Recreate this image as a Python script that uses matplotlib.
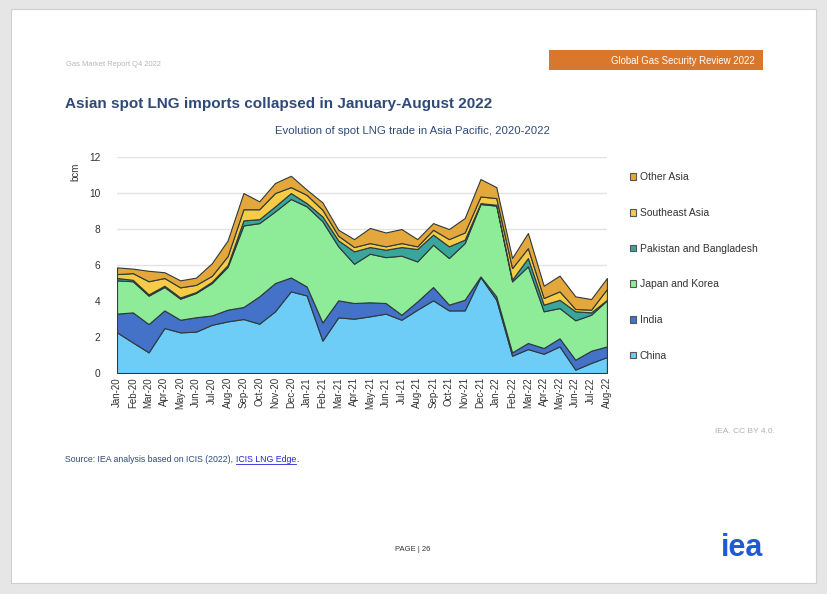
import matplotlib.pyplot as plt
from matplotlib.patches import Rectangle, Patch

plt.rcParams['font.family'] = ['Liberation Sans', 'DejaVu Sans']

months = ['Jan-20', 'Feb-20', 'Mar-20', 'Apr-20', 'May-20', 'Jun-20', 'Jul-20', 'Aug-20',
          'Sep-20', 'Oct-20', 'Nov-20', 'Dec-20', 'Jan-21', 'Feb-21', 'Mar-21', 'Apr-21',
          'May-21', 'Jun-21', 'Jul-21', 'Aug-21', 'Sep-21', 'Oct-21', 'Nov-21', 'Dec-21',
          'Jan-22', 'Feb-22', 'Mar-22', 'Apr-22', 'May-22', 'Jun-22', 'Jul-22', 'Aug-22']

china = [2.26, 1.70, 1.15, 2.50, 2.26, 2.30, 2.68, 2.87, 3.00, 2.74, 3.43, 4.54, 4.31, 1.80, 3.09, 3.02,
         3.15, 3.30, 2.96, 3.52, 4.04, 3.48, 3.48, 5.33, 4.07, 0.96, 1.33, 1.07, 1.48, 0.19, 0.56, 0.89]
india = [1.04, 1.67, 1.57, 0.98, 0.70, 0.80, 0.52, 0.65, 0.67, 1.52, 1.57, 0.77, 0.50, 1.01, 0.95, 0.87,
         0.78, 0.59, 0.28, 0.46, 0.74, 0.32, 0.59, 0.04, 0.19, 0.19, 0.34, 0.32, 0.45, 0.55, 0.68, 0.59]
japan_korea = [1.85, 1.73, 1.58, 1.30, 1.17, 1.35, 1.80, 2.38, 4.53, 4.07, 3.98, 4.36, 4.45, 5.62, 3.00, 2.18,
               2.70, 2.55, 3.28, 2.22, 2.35, 2.59, 3.15, 4.02, 5.04, 3.94, 4.26, 2.04, 1.68, 2.19, 2.00, 2.56]
pak_bang = [0.13, 0.08, 0.07, 0.07, 0.07, 0.05, 0.07, 0.10, 0.28, 0.22, 0.28, 0.33, 0.18, 0.27, 0.33, 0.69,
            0.37, 0.41, 0.48, 0.69, 0.56, 0.65, 0.19, 0.05, 0.05, 0.10, 0.46, 0.37, 0.46, 0.50, 0.13, 0.03]
se_asia = [0.22, 0.37, 0.73, 0.43, 0.56, 0.40, 0.33, 0.50, 0.62, 0.55, 0.74, 0.33, 0.46, 0.37, 0.26, 0.24,
           0.22, 0.19, 0.22, 0.15, 0.27, 0.40, 0.40, 0.37, 0.37, 0.64, 0.55, 0.37, 0.47, 0.13, 0.15, 0.60]
other_asia = [0.37, 0.25, 0.58, 0.32, 0.39, 0.40, 0.70, 0.87, 0.90, 0.44, 0.56, 0.63, 0.29, 0.41, 0.33, 0.44,
              0.84, 0.77, 0.78, 0.40, 0.37, 0.56, 0.80, 0.97, 0.61, 0.56, 0.84, 0.68, 0.87, 0.70, 0.59, 0.61]

labels = ['China', 'India', 'Japan and Korea', 'Pakistan and Bangladesh', 'Southeast Asia', 'Other Asia']
colors = ['#6dcdf7', '#4472c9', '#8eeb98', '#3aa59b', '#f6cb45', '#e4a73c']

fig = plt.figure(figsize=(8.28, 5.94), dpi=100)
fig.patch.set_facecolor('#e6e6e6')
fig.patches.append(Rectangle((0.013, 0.018), 0.972, 0.967, transform=fig.transFigure,
                             facecolor='white', edgecolor='#cfcfcf', lw=0.8, zorder=-5))

# page header
fig.text(0.08, 0.889, 'Gas Market Report Q4 2022', fontsize=5.4, color='#b5b5b5')
fig.patches.append(Rectangle((0.663, 0.882), 0.258, 0.033, transform=fig.transFigure,
                             facecolor='#d9772c', edgecolor='none', zorder=-4))
fig.text(0.912, 0.898, 'Global Gas Security Review 2022', fontsize=6.9, color='white',
         ha='right', va='center')
fig.text(0.079, 0.825, 'Asian spot LNG imports collapsed in January-August 2022',
         fontsize=11, fontweight='bold', color='#2f4a78', va='center')
fig.text(0.498, 0.779, 'Evolution of spot LNG trade in Asia Pacific, 2020-2022',
         fontsize=8.2, color='#2f4a78', ha='center', va='center')

ax = fig.add_axes((0.1413, 0.372, 0.5917, 0.3636))
x = list(range(len(months)))
ax.stackplot(x, china, india, japan_korea, pak_bang, se_asia, other_asia,
             colors=colors, edgecolor='#2d3a3a', linewidth=0.8, zorder=3)
ax.set_xlim(0, len(months) - 1)
ax.set_ylim(0, 12)
ax.set_yticks(range(0, 13, 2))
ax.set_xticks(x)
ax.set_xticklabels(months, rotation=90, fontsize=7, color='#333333')
ax.tick_params(axis='y', labelsize=7.3, colors='#333333', length=0, pad=12)
ax.tick_params(axis='x', length=0, pad=3)
ax.grid(axis='y', color='#e3e3e3', lw=1, zorder=0)
for s in ax.spines.values():
    s.set_visible(False)
ax.set_ylabel('bcm', fontsize=7, color='#333333', labelpad=14)
ax.yaxis.set_label_coords(-0.075, 0.93)

handles = [Patch(facecolor=c, edgecolor='#555555', lw=0.8) for c in colors]
ax.legend(handles[::-1], labels[::-1], loc='upper left', bbox_to_anchor=(1.027, 0.972),
          frameon=False, fontsize=7.5, handlelength=0.6, handleheight=0.6,
          handletextpad=0.4, labelspacing=2.46, labelcolor='#333333')

fig.text(0.936, 0.273, 'IEA. CC BY 4.0.', fontsize=6, color='#b0b0b0', ha='right', va='center')
t1 = fig.text(0.079, 0.227, 'Source: IEA analysis based on ICIS (2022), ', fontsize=6.3,
              color='#2f4a78', va='center')
fig.canvas.draw()
bb = t1.get_window_extent()
t2 = fig.text(bb.x1 / fig.bbox.width, 0.227, 'ICIS LNG Edge', fontsize=6.3, color='#2424d8',
              va='center')
fig.canvas.draw()
bb2 = t2.get_window_extent()
fig.lines.append(plt.Line2D([bb2.x0 / fig.bbox.width, bb2.x1 / fig.bbox.width],
                            [0.2195, 0.2195], transform=fig.transFigure, color='#2424d8', lw=0.6))
fig.text(bb2.x1 / fig.bbox.width, 0.227, '.', fontsize=6.3, color='#2f4a78', va='center')

fig.text(0.499, 0.075, 'PAGE | 26', fontsize=5.5, color='#333333', ha='center', va='center')
fig.text(0.922, 0.077, 'iea', fontsize=22, fontweight='bold', color='#1f5ad6',
         ha='right', va='center')

fig.savefig('out.png', dpi=100, facecolor=fig.get_facecolor())
